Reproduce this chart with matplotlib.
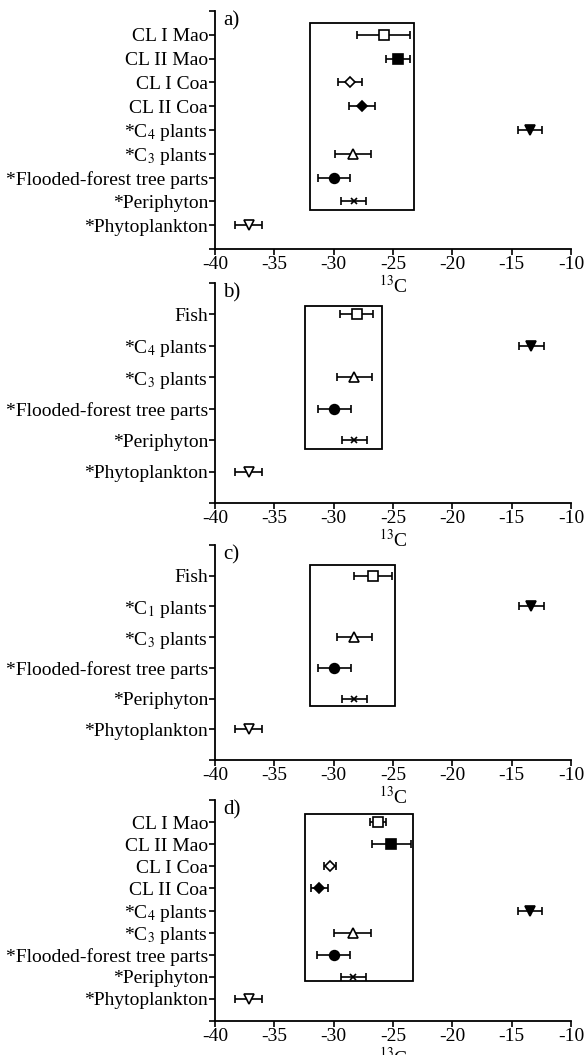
"""Stable carbon isotope values (mean +/- SD) of consumers and food sources, four panels."""

import matplotlib

matplotlib.use("Agg")
import matplotlib.pyplot as plt
from matplotlib.patches import Rectangle

plt.rcParams["font.family"] = ["Liberation Serif", "DejaVu Serif"]
plt.rcParams["mathtext.fontset"] = "stix"

# ---- data ------------------------------------------------------------- #
SOURCES = ["*C$_4$ plants", "*C$_3$ plants", "*Flooded-forest tree parts",
           "*Periphyton", "*Phytoplankton"]

cats_a = ["CL I Mao", "CL II Mao", "CL I Coa", "CL II Coa"] + SOURCES
mean_a = [-25.8, -24.55, -28.6, -27.6, -13.45, -28.35, -30.0, -28.3, -37.15]
err_a = [2.25, 1.0, 1.0, 1.1, 1.0, 1.5, 1.35, 1.05, 1.15]

cats_b = ["Fish"] + SOURCES
mean_b = [-28.05, -13.35, -28.25, -29.95, -28.25, -37.15]
err_b = [1.4, 1.05, 1.5, 1.4, 1.05, 1.15]

cats_c = ["Fish", "*C$_1$ plants"] + SOURCES[1:]
mean_c = [-26.65, -13.35, -28.25, -29.95, -28.25, -37.15]
err_c = [1.6, 1.05, 1.5, 1.4, 1.05, 1.15]

cats_d = cats_a
mean_d = [-26.25, -25.15, -30.3, -31.2, -13.45, -28.4, -30.0, -28.35, -37.15]
err_d = [0.7, 1.63, 0.52, 0.72, 1.0, 1.53, 1.37, 1.06, 1.15]

# enclosing rectangles: (x0, x1, y0, y1) in data units
box_a = (-32.0, -23.2, 1.62, 9.49)
box_b = (-32.45, -25.9, 1.71, 6.28)
box_c = (-32.0, -24.8, 1.76, 6.36)
box_d = (-32.4, -23.3, 1.80, 9.35)

# marker style per category name: (marker, filled)
STYLE = {
    "CL I Mao": ("s", False), "CL II Mao": ("s", True),
    "CL I Coa": ("D", False), "CL II Coa": ("D", True),
    "Fish": ("s", False),
    "*C$_4$ plants": ("v", True), "*C$_1$ plants": ("v", True),
    "*C$_3$ plants": ("^", False),
    "*Flooded-forest tree parts": ("o", True),
    "*Periphyton": ("x", True),
    "*Phytoplankton": ("v", False),
}
MSIZE = {"s": 7, "D": 5.5, "v": 7, "^": 7, "o": 7, "x": 4.5}
FS = 14


def _panel(fig, rect, cats, means, errs, box, tag):
    ax = fig.add_axes(rect)
    ax.patch.set_visible(False)  # panels overlap slightly; keep labels visible
    n = len(cats)
    ys = list(range(n, 0, -1))  # first category on top
    for y, c, m, e in zip(ys, cats, means, errs):
        mk, filled = STYLE[c]
        ax.errorbar(m, y, xerr=e, fmt="none", ecolor="black",
                    elinewidth=1.2, capsize=3, capthick=1.2, zorder=2)
        ax.plot(m, y, marker=mk, ms=MSIZE[mk], color="black",
                mfc="black" if filled else "white", mec="black",
                mew=1.2, zorder=3)
    x0, x1, y0, y1 = box
    ax.add_patch(Rectangle((x0, y0), x1 - x0, y1 - y0, fill=False,
                           lw=1.3, ec="black", zorder=1))

    ax.set_xlim(-40, -10)
    ax.set_ylim(0, n + 1)
    ax.set_xticks(range(-40, -9, 5))
    ax.set_xticklabels([str(v) for v in range(-40, -9, 5)])
    ax.set_yticks(list(range(0, n + 2)))
    ax.set_yticklabels([""] + cats[::-1] + [""])
    ax.tick_params(axis="both", direction="out", length=4, width=1.2,
                   labelsize=FS, pad=1)
    for s in ("top", "right"):
        ax.spines[s].set_visible(False)
    for s in ("left", "bottom"):
        ax.spines[s].set_linewidth(1.3)
    ax.set_xlabel("$^{13}$C", fontsize=FS, labelpad=1)
    ax.text(0.022, 1.0, tag, transform=ax.transAxes, ha="left", va="top",
            fontsize=FS + 1)
    return ax


def main() -> None:
    fig = plt.figure(figsize=(5.86, 10.55), dpi=100)
    left, width = 0.3669, 0.6075
    _panel(fig, [left, 0.7640, width, 0.2256], cats_a, mean_a, err_a, box_a, "a)")
    _panel(fig, [left, 0.5232, width, 0.2085], cats_b, mean_b, err_b, box_b, "b)")
    _panel(fig, [left, 0.2796, width, 0.2038], cats_c, mean_c, err_c, box_c, "c)")
    _panel(fig, [left, 0.0322, width, 0.2095], cats_d, mean_d, err_d, box_d, "d)")
    fig.savefig("out.png", dpi=100)
    plt.close(fig)


if __name__ == "__main__":
    main()
